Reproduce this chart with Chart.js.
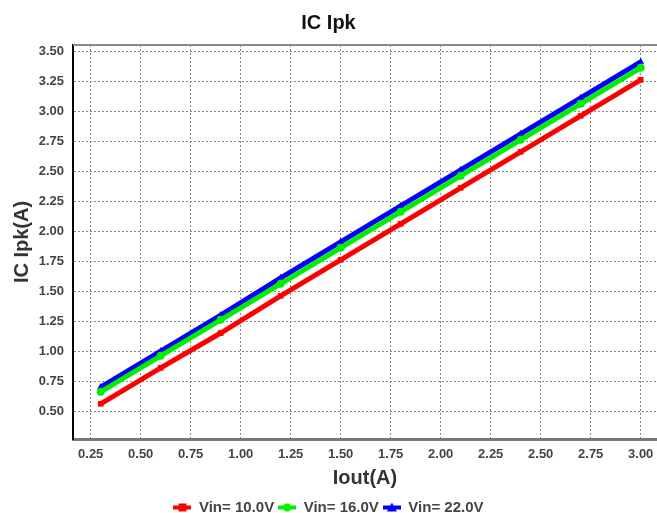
<!DOCTYPE html>
<html>
<head>
<meta charset="utf-8">
<script src="https://cdn.jsdelivr.net/npm/chart.js@4.4.1/dist/chart.umd.min.js"></script>
<style>
  html, body { margin: 0; padding: 0; background: #fff; overflow: hidden; }
  canvas { display: block; }
</style>
</head>
<body>
<canvas id="c" width="657" height="513"></canvas>
<script>
const iout = [0.3, 0.6, 0.9, 1.2, 1.5, 1.8, 2.1, 2.4, 2.7, 3.0];
const vin10 = [0.56, 0.86, 1.15, 1.46, 1.76, 2.06, 2.36, 2.66, 2.96, 3.26];
const vin16 = [0.66, 0.96, 1.26, 1.56, 1.86, 2.16, 2.46, 2.76, 3.06, 3.36];
const vin22 = [0.70, 1.00, 1.30, 1.61, 1.91, 2.21, 2.51, 2.81, 3.11, 3.41];
const xTicks = [0.25, 0.5, 0.75, 1.0, 1.25, 1.5, 1.75, 2.0, 2.25, 2.5, 2.75, 3.0];
const yTicks = [0.5, 0.75, 1.0, 1.25, 1.5, 1.75, 2.0, 2.25, 2.5, 2.75, 3.0, 3.25, 3.5];

const FONT = 'Liberation Sans, Arial, sans-serif';

// little legend swatch: thick line with the marker on it
function swatch(color, style) {
    const c = document.createElement('canvas');
    c.width = 18; c.height = 10;
    const g = c.getContext('2d');
    g.fillStyle = color;
    g.fillRect(0, 3, 18, 4);
    g.beginPath();
    if (style === 'rect') g.rect(5, 1, 8, 8);
    else if (style === 'circle') g.arc(9, 5, 4, 0, Math.PI * 2);
    else { g.moveTo(9, 0); g.lineTo(14, 9); g.lineTo(4, 9); g.closePath(); }
    g.fill();
    return c;
}

const series = [
    { label: 'Vin= 10.0V', data: vin10, color: '#ff0000', style: 'rect' },
    { label: 'Vin= 16.0V', data: vin16, color: '#00ee00', style: 'circle' },
    { label: 'Vin= 22.0V', data: vin22, color: '#0000ff', style: 'triangle' },
];

const frame = {
    id: 'frame',
    afterDatasetsDraw(chart) {
        const { ctx, chartArea: a } = chart;
        ctx.save();
        ctx.strokeStyle = '#888';
        ctx.lineWidth = 2;
        ctx.beginPath();
        ctx.moveTo(a.left, a.top);
        ctx.lineTo(a.right, a.top);
        ctx.stroke();
        ctx.restore();
    },
};

new Chart(document.getElementById('c'), {
    type: 'line',
    data: {
        datasets: series.map((s) => ({
            label: s.label,
            data: iout.map((x, i) => ({ x, y: s.data[i] })),
            borderColor: s.color,
            backgroundColor: s.color,
            borderWidth: 5,
            pointStyle: s.style,
            pointRadius: 4,
            pointBorderWidth: 0,
            tension: 0,
        })),
    },
    options: {
        responsive: false,
        animation: false,
        layout: { autoPadding: false, padding: { left: 0, top: 0, right: 0, bottom: -12 } },
        plugins: {
            title: {
                display: true,
                text: 'IC Ipk',
                color: '#111',
                font: { size: 20, weight: 'bold', family: FONT },
                padding: { top: 11, bottom: 10 },
            },
            legend: {
                position: 'bottom',
                labels: {
                    color: '#444',
                    font: { size: 15, weight: 'bold', family: FONT },
                    usePointStyle: true,
                    pointStyleWidth: 18,
                    padding: 4,
                    boxHeight: 10,
                    generateLabels: () => series.map((s, i) => ({
                        text: s.label,
                        fontColor: '#444',
                        pointStyle: swatch(s.color, s.style),
                        datasetIndex: i,
                        hidden: false,
                        lineWidth: 0,
                    })),
                },
            },
            tooltip: { enabled: false },
        },
        scales: {
            x: {
                type: 'linear',
                min: 0.1615,
                max: 3.0815,
                afterBuildTicks: (s) => { s.ticks = xTicks.map((v) => ({ value: v })); },
                afterFit: (s) => { s.height = 57; s.paddingLeft = 0; s.paddingRight = 0; },
                grid: { color: '#888', lineWidth: 1, drawTicks: false },
                border: { display: true, color: '#777', width: 3, dash: [2, 2] },
                ticks: {
                    color: '#444',
                    padding: 8,
                    maxRotation: 0,
                    font: { size: 13, weight: 'bold', family: FONT },
                    callback: (v) => Number(v).toFixed(2),
                },
                title: {
                    display: true,
                    text: 'Iout(A)',
                    color: '#333',
                    font: { size: 20, weight: 'bold', family: FONT },
                    padding: { top: 0, bottom: 6 },
                },
            },
            y: {
                type: 'linear',
                min: 0.267,
                max: 3.55,
                afterBuildTicks: (s) => { s.ticks = yTicks.map((v) => ({ value: v })); },
                afterFit: (s) => { s.width = 73; s.paddingTop = 0; s.paddingBottom = 0; },
                grid: { color: '#888', lineWidth: 1, drawTicks: false },
                border: { display: true, color: '#000', width: 2, dash: [2, 2] },
                ticks: {
                    color: '#444',
                    padding: 9,
                    font: { size: 13, weight: 'bold', family: FONT },
                    callback: (v) => Number(v).toFixed(2),
                },
                title: {
                    display: true,
                    text: 'IC Ipk(A)',
                    color: '#333',
                    font: { size: 20, weight: 'bold', family: FONT },
                    padding: { top: 10, bottom: 0 },
                },
            },
        },
    },
    plugins: [frame],
});
</script>
</body>
</html>
